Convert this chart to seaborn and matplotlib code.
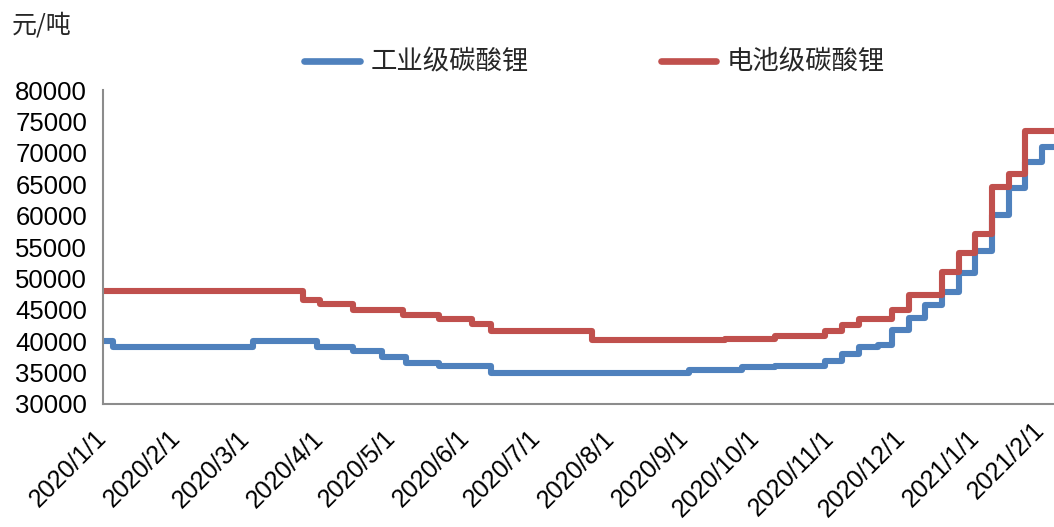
import pandas as pd
import matplotlib.pyplot as plt
import seaborn as sns

# Fechas de cambio de precio y valores (元/吨)
fechas_ind = ['2020-01-01', '2020-01-05', '2020-03-04', '2020-03-31', '2020-04-15',
              '2020-04-27', '2020-05-07', '2020-05-21', '2020-06-12', '2020-09-03',
              '2020-09-25', '2020-10-09', '2020-10-30', '2020-11-06', '2020-11-13',
              '2020-11-21', '2020-11-27', '2020-12-04', '2020-12-11', '2020-12-18',
              '2020-12-25', '2021-01-01', '2021-01-08', '2021-01-15', '2021-01-22',
              '2021-01-29', '2021-02-03']
precio_ind = [40000, 39000, 40000, 39000, 38500,
              37500, 36500, 36000, 35000, 35400,
              35900, 36100, 36800, 38000, 39000,
              39400, 41800, 43700, 45700, 47900,
              50900, 54400, 60100, 64400, 68600,
              71000, 71000]

fechas_bat = ['2020-01-01', '2020-03-25', '2020-04-01', '2020-04-15', '2020-05-06',
              '2020-05-21', '2020-06-04', '2020-06-12', '2020-07-24', '2020-09-18',
              '2020-10-09', '2020-10-30', '2020-11-06', '2020-11-13', '2020-11-27',
              '2020-12-04', '2020-12-18', '2020-12-25', '2021-01-01', '2021-01-08',
              '2021-01-15', '2021-01-22', '2021-02-03']
precio_bat = [48000, 46500, 46000, 45000, 44200,
              43600, 42700, 41600, 40200, 40400,
              40800, 41600, 42600, 43600, 44900,
              47300, 51000, 54100, 57100, 64600,
              66600, 73500, 73500]

ticks_x = pd.date_range('2020-01-01', '2021-02-01', freq='MS')
etiquetas_x = [f'{d.year}/{d.month}/1' for d in ticks_x]

df_ind = pd.DataFrame({'fecha': pd.to_datetime(fechas_ind), 'precio': precio_ind, 'serie': '工业级碳酸锂'})
df_bat = pd.DataFrame({'fecha': pd.to_datetime(fechas_bat), 'precio': precio_bat, 'serie': '电池级碳酸锂'})
df = pd.concat([df_ind, df_bat], ignore_index=True)

sns.set_style('white')
plt.rcParams['font.family'] = ['Liberation Sans', 'Noto Sans CJK SC', 'DejaVu Sans']

fig = plt.figure(figsize=(10.54, 5.27), dpi=100)
ax = fig.add_axes([0.0977, 0.2334, 0.9023, 0.5956])

sns.lineplot(data=df, x='fecha', y='precio', hue='serie',
             palette=['#4F81BD', '#C0504D'], linewidth=4.4,
             drawstyle='steps-post', ax=ax, legend=True)

ax.set_xlim(pd.Timestamp('2020-01-01'), pd.Timestamp('2021-02-03'))
ax.set_ylim(30000, 80000)
ax.set_yticks(range(30000, 80001, 5000))
ax.set_yticklabels([str(v) for v in range(30000, 80001, 5000)], fontsize=18.5)
ax.set_xticks(ticks_x)
etiquetas = ax.set_xticklabels(etiquetas_x, rotation=45, ha='right', va='center',
                               rotation_mode='anchor', fontsize=18)
# la última etiqueta queda en el borde derecho: anclarla por abajo para que no se corte
etiquetas[-1].set_va('bottom')
ax.set_xlabel('')
ax.set_ylabel('')

for s in ['top', 'right']:
    ax.spines[s].set_visible(False)
for s in ['left', 'bottom']:
    ax.spines[s].set_color('#8c8c8c')
    ax.spines[s].set_linewidth(1.5)
ax.tick_params(axis='both', direction='out', length=8, width=1.3, color='#8c8c8c', labelcolor='black')
ax.tick_params(axis='x', pad=14)

leg = ax.legend(loc='center', bbox_to_anchor=(0.517, 1.088), ncol=2, frameon=False,
                handlelength=2.1, columnspacing=5.0, handletextpad=0.4,
                prop={'family': 'Noto Sans CJK SC', 'size': 19})
for linea in leg.get_lines():
    linea.set_linewidth(4.8)

fig.text(0.011, 0.952, '元/吨', fontsize=18, family='Noto Sans CJK SC', va='center')

fig.savefig('out.png', dpi=100)
